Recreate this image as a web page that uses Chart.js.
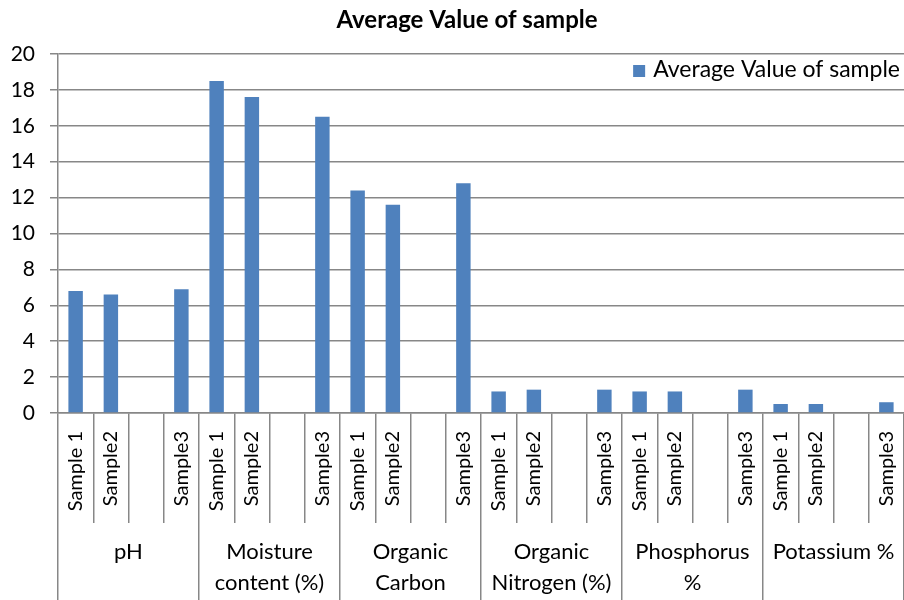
<!DOCTYPE html>
<html>
<head>
<meta charset="utf-8">
<script src="https://cdn.jsdelivr.net/npm/chart.js@4.4.1/dist/chart.umd.min.js"></script>
<style>
  html, body { margin: 0; padding: 0; background: #ffffff; }
  #wrap { width: 904px; height: 600px; }
</style>
</head>
<body>
<div id="wrap"><canvas id="c" width="904" height="600"></canvas></div>
<script>
// ---- data ----
const chartTitle = 'Average Value of sample';
const seriesName = 'Average Value of sample';
const groupLabels = ['pH', ['Moisture', 'content (%)'], ['Organic', 'Carbon'], ['Organic', 'Nitrogen (%)'], ['Phosphorus', '%'], 'Potassium %'];
const sampleLabels = ['Sample 1', 'Sample2', '', 'Sample3'];
const phValues = [6.8, 6.6, null, 6.9];
const moistureValues = [18.5, 17.6, null, 16.5];
const carbonValues = [12.4, 11.6, null, 12.8];
const nitrogenValues = [1.2, 1.3, null, 1.3];
const phosphorusValues = [1.2, 1.2, null, 1.3];
const potassiumValues = [0.5, 0.5, null, 0.6];
const yTicks = [0, 2, 4, 6, 8, 10, 12, 14, 16, 18, 20];

// ---- build library structures ----
const groupValues = [phValues, moistureValues, carbonValues, nitrogenValues, phosphorusValues, potassiumValues];
const categories = [];
const values = [];
groupValues.forEach(g => {
  sampleLabels.forEach((s, i) => { categories.push(s); values.push(g[i]); });
});

const gridColor = '#878787';
const barColor = '#4F81BD';
const fontFamily = 'Lato, "Open Sans", sans-serif';

Chart.defaults.font.family = fontFamily;
Chart.defaults.color = '#000000';

// Title (slightly right of canvas centre, as in the reference)
const chartTitlePlugin = {
  id: 'chartTitlePlugin',
  afterDraw(chart) {
    const ctx = chart.ctx;
    ctx.save();
    ctx.font = 'bold 24px ' + fontFamily;
    ctx.fillStyle = '#000000';
    ctx.textAlign = 'center';
    ctx.textBaseline = 'middle';
    ctx.fillText(chartTitle, chart.width / 2 + 15, 20);
    ctx.restore();
  }
};

// Legend drawn inside the plot area, top-right (as in the reference)
const insideLegend = {
  id: 'insideLegend',
  afterDatasetsDraw(chart) {
    const ctx = chart.ctx;
    const area = chart.chartArea;
    const ds = chart.data.datasets[0];
    ctx.save();
    ctx.font = '23px ' + fontFamily;
    const tw = ctx.measureText(ds.label).width;
    const cy = area.top + 16;
    const textRight = area.right - 4;
    const textX = textRight - tw;
    const box = 12;
    const boxX = textX - 8 - box;
    ctx.fillStyle = ds.backgroundColor;
    ctx.fillRect(boxX, cy - box / 2 + 1, box, box);
    ctx.fillStyle = '#000000';
    ctx.textBaseline = 'middle';
    ctx.textAlign = 'left';
    ctx.fillText(ds.label, textX, cy);
    ctx.restore();
  }
};

new Chart(document.getElementById('c'), {
  type: 'bar',
  data: {
    labels: categories,
    datasets: [{
      label: seriesName,
      data: values,
      backgroundColor: barColor,
      borderWidth: 0,
      barPercentage: 0.41,
      categoryPercentage: 1.0,
      xAxisID: 'x',
      yAxisID: 'y'
    }]
  },
  plugins: [insideLegend, chartTitlePlugin],
  options: {
    responsive: false,
    devicePixelRatio: 1,
    animation: false,
    layout: { padding: { left: 0, right: 0, top: 54, bottom: 0 } },
    plugins: {
      title: { display: false },
      legend: { display: false },
      tooltip: { enabled: false }
    },
    scales: {
      y: {
        min: 0,
        max: 20,
        afterBuildTicks: (scale) => { scale.ticks = yTicks.map(v => ({ value: v })); },
        afterFit: (scale) => { scale.width = 58; },
        ticks: { font: { size: 21 }, padding: 15, color: '#000000' },
        grid: { color: gridColor, lineWidth: 1.5, tickLength: 8, drawTicks: true },
        border: { display: true, color: gridColor, width: 1.5 }
      },
      x: {
        type: 'category',
        position: 'bottom',
        offset: true,
        afterFit: (scale) => { scale.height = 110; },
        ticks: {
          autoSkip: false,
          minRotation: 90,
          maxRotation: 90,
          padding: -92,
          font: { size: 20 },
          color: '#000000'
        },
        grid: { offset: true, drawOnChartArea: false, color: gridColor, lineWidth: 1.5, tickLength: 110 },
        border: { display: true, color: gridColor, width: 1.5 }
      },
      x2: {
        type: 'category',
        position: 'bottom',
        labels: groupLabels,
        offset: true,
        afterFit: (scale) => { scale.height = 77; },
        ticks: {
          autoSkip: false,
          minRotation: 0,
          maxRotation: 0,
          padding: -63,
          font: { size: 22, lineHeight: 1.4 },
          color: '#000000'
        },
        grid: { offset: true, drawOnChartArea: false, color: gridColor, lineWidth: 1.5, tickLength: 77 },
        border: { display: false }
      }
    }
  }
});
</script>
</body>
</html>
